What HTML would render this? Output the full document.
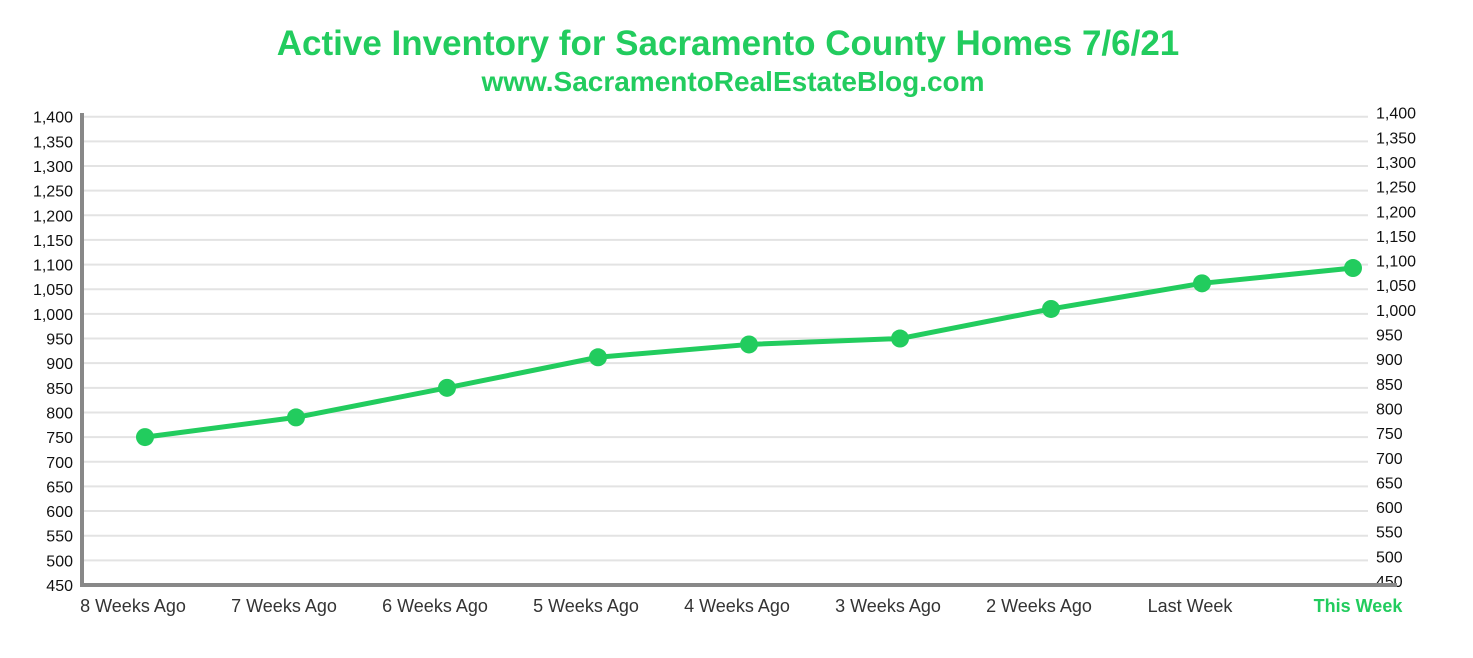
<!DOCTYPE html>
<html><head><meta charset="utf-8"><style>
body{margin:0;background:#fff;font-family:"Liberation Sans",sans-serif}
svg text{font-family:"Liberation Sans",sans-serif}
</style></head><body>
<svg width="1473" height="653" viewBox="0 0 1473 653">
<text x="728" y="55" text-anchor="middle" font-size="35" font-weight="bold" fill="#22cc5e">Active Inventory for Sacramento County Homes 7/6/21</text>
<text x="733" y="91" text-anchor="middle" font-size="28" font-weight="bold" fill="#22cc5e">www.SacramentoRealEstateBlog.com</text>
<g id="grid"></g><g id="axes"></g><g id="series"></g>
</svg>
<script>
const categories=["8 Weeks Ago","7 Weeks Ago","6 Weeks Ago","5 Weeks Ago","4 Weeks Ago","3 Weeks Ago","2 Weeks Ago","Last Week","This Week"];
const values=[750,790,850,912,938,950,1010,1062,1093];
const ticks=[450,500,550,600,650,700,750,800,850,900,950,1000,1050,1100,1150,1200,1250,1300,1350,1400];
const NS="http://www.w3.org/2000/svg";
const x0=82,x1=1397,gridEnd=1368,yTop=116.7,yBot=585,vMin=450,vMax=1400,xFirst=145,xLast=1353;
function xs(i){return xFirst+(xLast-xFirst)*i/(categories.length-1);}
function ys(v){return yBot-(v-vMin)/(vMax-vMin)*(yBot-yTop);}
function mk(t,a,p){const e=document.createElementNS(NS,t);for(const k in a)e.setAttribute(k,a[k]);p.appendChild(e);return e;}
const g=document.getElementById('grid'),ax=document.getElementById('axes'),s=document.getElementById('series');
ticks.forEach(v=>{
 if(v>vMin){const l=mk('line',{x1:x0,x2:gridEnd,y1:ys(v),y2:ys(v),stroke:'#e3e3e3','stroke-width':2},g);
 
 }
 const t=mk('text',{x:73,y:ys(v)+6,'text-anchor':'end','font-size':16,fill:'#111'},ax);t.textContent=v.toLocaleString('en-US');
 
 
 const r=mk('text',{x:1376,y:ys(v)+2,'font-size':16,fill:'#111'},ax);r.textContent=v.toLocaleString('en-US');
 
 
});
const ya=mk('line',{x1:x0,x2:x0,y1:113,y2:yBot+2,stroke:'#888','stroke-width':4},ax);


const xa=mk('line',{x1:x0-2,x2:x1,y1:yBot,y2:yBot,stroke:'#888','stroke-width':4},ax);


categories.forEach((c,i)=>{
 const last=i===categories.length-1;
 const t=mk('text',{x:xs(i)-12+(last?17:0),y:612,'text-anchor':'middle','font-size':18,fill:last?'#22cc5e':'#333','font-weight':last?'bold':'normal'},ax);t.textContent=c;
 
 
});
const pl=mk('polyline',{points:values.map((v,i)=>xs(i)+','+ys(v)).join(' '),fill:'none',stroke:'#22cc5e','stroke-width':5,'stroke-linejoin':'round'},s);


values.forEach((v,i)=>{
 const c=mk('circle',{cx:xs(i),cy:ys(v),r:9,fill:'#22cc5e'},s);
 
 
});
</script>
</body></html>
